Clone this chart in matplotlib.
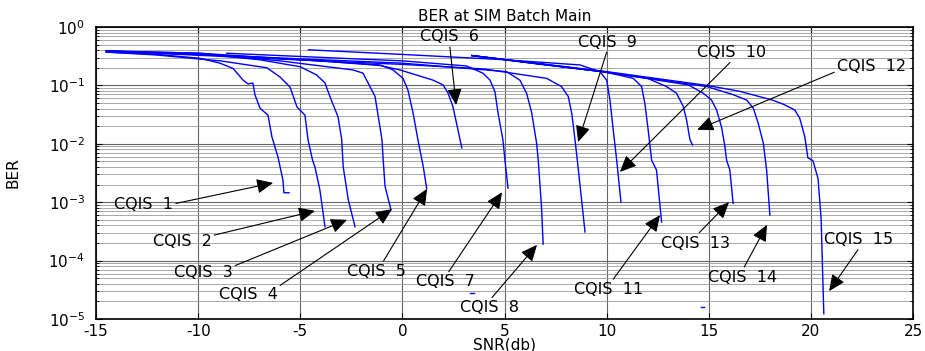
import matplotlib
matplotlib.use('Agg')
import matplotlib.pyplot as plt

plt.rcParams['font.family'] = 'DejaVu Sans'
plt.rcParams['axes.unicode_minus'] = False

# BER vs SNR curves, one per CQI setting
snr_1 = [-14.5, -12, -9.9, -8.93, -8.29, -7.8, -7.56, -7.32, -7.22, -6.97, -6.58, -6.39, -6.09, -5.85, -5.8, -5.55]
ber_1 = [0.372, 0.339, 0.291, 0.240, 0.195, 0.123, 0.106, 0.110, 0.0692, 0.0407, 0.0309, 0.0132, 0.00589, 0.0024, 0.00145, 0.00145]
snr_2 = [-14.5, -12, -9.9, -8.9, -6.63, -5.99, -5.5, -5.16, -4.77, -4.62, -4.4, -4.28, -4.04, -3.79]
ber_2 = [0.372, 0.331, 0.282, 0.263, 0.200, 0.139, 0.0933, 0.0427, 0.0309, 0.0117, 0.00525, 0.00398, 0.00162, 0.00038]
snr_3 = [-14.5, -9.9, -7, -5.01, -4.2, -3.79, -3.55, -3.15, -2.97, -2.9, -2.65, -2.32]
ber_3 = [0.380, 0.347, 0.275, 0.209, 0.151, 0.110, 0.0646, 0.0288, 0.0117, 0.00407, 0.0011, 0.00038]
snr_4 = [-14.5, -9.9, -6, -2.42, -1.93, -1.59, -1.34, -1.1, -1.0, -0.94, -0.85, -0.56]
ber_4 = [0.389, 0.355, 0.263, 0.184, 0.162, 0.0955, 0.0646, 0.0195, 0.0117, 0.00525, 0.00186, 0.000741]
snr_5 = [-14.5, -9.9, -5, -1.1, -0.46, 0.03, 0.27, 0.52, 0.76, 1.02, 1.19]
ber_5 = [0.389, 0.355, 0.275, 0.224, 0.184, 0.132, 0.0832, 0.0339, 0.0117, 0.00407, 0.0017]
snr_6 = [-14.5, -8, -4, -1.1, -0.12, 1.5, 1.99, 2.23, 2.47, 2.91]
ber_6 = [0.389, 0.316, 0.263, 0.219, 0.184, 0.123, 0.102, 0.0741, 0.0437, 0.00851]
snr_7 = [-8.6, -4, 0, 3.14, 3.94, 4.29, 4.53, 4.68, 4.92, 5.02, 5.17]
ber_7 = [0.355, 0.302, 0.263, 0.215, 0.162, 0.123, 0.0776, 0.0339, 0.0117, 0.00525, 0.00174]
snr_8 = [-14.5, -8, 0, 5.1, 5.75, 6.08, 6.33, 6.57, 6.65, 6.81, 6.89]
ber_8 = [0.389, 0.316, 0.240, 0.172, 0.123, 0.0733, 0.0339, 0.0102, 0.00525, 0.000832, 0.000191]
snr_9 = [-14.5, -6, 0, 4, 7.06, 7.79, 8.12, 8.3, 8.45, 8.6, 8.94]
ber_9 = [0.389, 0.282, 0.229, 0.191, 0.132, 0.0955, 0.0646, 0.0316, 0.0117, 0.00398, 0.000309]
snr_10 = [-4.6, 0, 5, 8.69, 9.67, 10.0, 10.16, 10.32, 10.49, 10.7]
ber_10 = [0.407, 0.339, 0.275, 0.224, 0.172, 0.123, 0.0562, 0.0174, 0.00525, 0.001]
snr_11 = [3.4, 7, 9.9, 11.3, 11.71, 11.87, 12.03, 12.2, 12.44, 12.69]
ber_11 = [0.324, 0.224, 0.170, 0.132, 0.0955, 0.049, 0.0174, 0.00525, 0.00355, 0.000457]
snr_12 = [3.4, 9.9, 12.0, 12.93, 13.42, 13.75, 13.91, 14.08, 14.2]
ber_12 = [0.324, 0.170, 0.132, 0.0955, 0.0733, 0.0437, 0.0257, 0.0117, 0.00955]
snr_13 = [3.4, 9.9, 14.0, 14.73, 15.13, 15.38, 15.62, 15.79, 15.87, 16.03, 16.19]
ber_13 = [0.324, 0.170, 0.102, 0.0733, 0.0562, 0.038, 0.0195, 0.00891, 0.00525, 0.00355, 0.000955]
snr_14 = [3.4, 9.9, 14.9, 16.2, 16.85, 17.18, 17.42, 17.67, 17.83, 17.99]
ber_14 = [0.324, 0.170, 0.0955, 0.0692, 0.0562, 0.0407, 0.0224, 0.0102, 0.00355, 0.000603]
snr_15 = [3.4, 9.9, 14.9, 16.5, 18.1, 18.63, 19.21, 19.45, 19.7, 19.85, 20.1, 20.35, 20.5, 20.63]
ber_15 = [0.324, 0.174, 0.1, 0.0794, 0.0562, 0.0479, 0.038, 0.0275, 0.0132, 0.00575, 0.00513, 0.00251, 0.000501, 1.23e-5]

# isolated low-BER points (separated from their curves)
snr_6_tail = [3.3, 3.5]
ber_6_tail = [2.8e-5, 2.8e-5]
snr_12_tail = [14.6, 14.78]
ber_12_tail = [1.6e-5, 1.6e-5]

curves = [(snr_1, ber_1), (snr_2, ber_2), (snr_3, ber_3), (snr_4, ber_4), (snr_5, ber_5),
          (snr_6, ber_6), (snr_7, ber_7), (snr_8, ber_8), (snr_9, ber_9), (snr_10, ber_10),
          (snr_11, ber_11), (snr_12, ber_12), (snr_13, ber_13), (snr_14, ber_14), (snr_15, ber_15),
          (snr_6_tail, ber_6_tail), (snr_12_tail, ber_12_tail)]

# label, text centre, arrow tip, where the arrow leaves the text box
labels = [
    ("CQIS  1", (-12.67, 9.3e-4), (-6.33, 2.14e-3), (1.0, 0.5)),
    ("CQIS  2", (-10.79, 2.1e-4), (-4.28, 7.1e-4), (1.0, 0.9)),
    ("CQIS  3", (-9.76, 6.2e-5), (-2.71, 5.0e-4), (1.0, 0.9)),
    ("CQIS  4", (-7.56, 2.6e-5), (-0.51, 7.6e-4), (1.0, 1.0)),
    ("CQIS  5", (-1.29, 6.6e-5), (1.21, 1.7e-3), (0.6, 1.0)),
    ("CQIS  6", (2.31, 0.68), (2.63, 0.046), (0.5, 0.0)),
    ("CQIS  7", (2.09, 4.3e-5), (4.88, 1.48e-3), (0.53, 1.0)),
    ("CQIS  8", (4.24, 1.55e-5), (6.59, 1.86e-4), (0.51, 1.0)),
    ("CQIS  9", (10.04, 0.55), (8.60, 0.0107), (0.5, 0.0)),
    ("CQIS  10", (16.11, 0.37), (10.65, 3.3e-3), (0.52, 0.0)),
    ("CQIS  11", (10.12, 3.2e-5), (12.61, 6.0e-4), (0.53, 1.0)),
    ("CQIS  12", (22.97, 0.21), (14.43, 0.0174), (0.0, 0.2)),
    ("CQIS  13", (14.33, 2.0e-4), (15.99, 1.0e-3), (0.52, 1.0)),
    ("CQIS  14", (16.63, 5.2e-5), (17.85, 4.1e-4), (0.51, 1.0)),
    ("CQIS  15", (22.33, 2.3e-4), (20.89, 3.0e-5), (0.52, 0.0)),
]

fig = plt.figure(figsize=(9.25, 3.51), dpi=100)
ax = fig.add_axes([0.1038, 0.0912, 0.8833, 0.8319])

for snr, ber in curves:
    ax.semilogy(snr, ber, color='#0000ff', lw=1.0)

for text, xy_text, xy_tip, rel in labels:
    ax.annotate(text, xy=xy_tip, xytext=xy_text, ha='center', va='center', fontsize=11.5,
                arrowprops=dict(arrowstyle='-|>,head_length=1.0,head_width=0.45', color='k',
                                lw=0.8, shrinkA=0, shrinkB=0, relpos=rel, mutation_scale=10))

ax.set_xlim(-15, 25)
ax.set_ylim(1e-5, 1)
ax.set_xticks(range(-15, 26, 5))
ax.grid(True, which='major', color='#666666', lw=0.8)
ax.grid(True, which='minor', axis='y', color='#9a9a9a', lw=0.6)
ax.set_axisbelow(True)
ax.tick_params(which='both', direction='in', top=True, right=True, labelsize=11)
ax.tick_params(which='major', length=4, width=0.8)
ax.tick_params(which='minor', length=2.5, width=0.6)
ax.tick_params(axis='y', which='both', pad=8)
for s in ax.spines.values():
    s.set_linewidth(1.2)

ax.set_title("BER at SIM Batch Main", fontsize=11, pad=4)
ax.set_xlabel("SNR(db)", fontsize=11)
ax.set_ylabel("BER", fontsize=11)
ax.xaxis.set_label_coords(0.5, -0.062)
ax.yaxis.set_label_coords(-0.093, 0.5)

fig.savefig('out.png', dpi=100)
